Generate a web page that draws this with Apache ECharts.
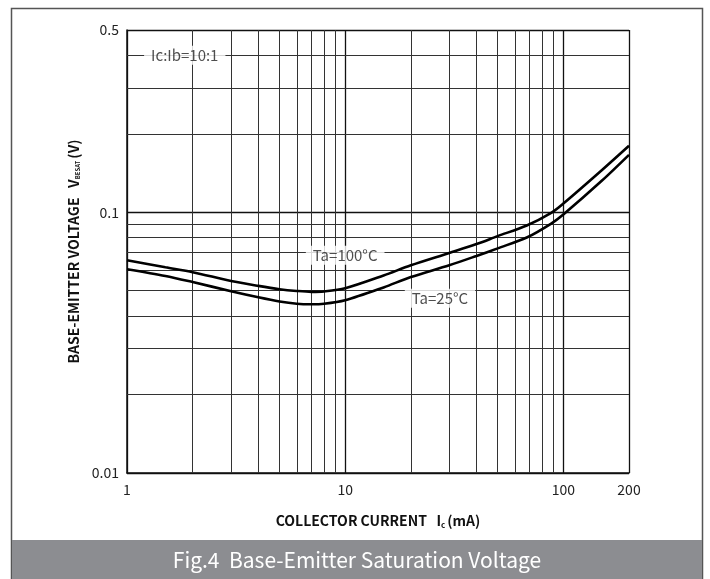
<!DOCTYPE html>
<html>
<head>
<meta charset="utf-8">
<script src="https://cdn.jsdelivr.net/npm/echarts@6/dist/echarts.min.js"></script>
<style>
html,body{margin:0;padding:0;background:#fff;}
#c{width:710px;height:579px;}
</style>
</head>
<body>
<div id="c"></div>
<script>
var icValues = [1, 1.5, 2, 3, 4, 5, 6, 7, 8, 10, 15, 20, 30, 40, 50, 68, 88, 100, 150, 200];
var vbe100 = [0.0655, 0.0615, 0.0589, 0.0545, 0.0522, 0.0507, 0.0499, 0.0495, 0.0497, 0.0511, 0.0572, 0.0626, 0.0698, 0.0755, 0.081, 0.089, 0.0995, 0.108, 0.145, 0.180];
var vbe25 = [0.0605, 0.057, 0.054, 0.0498, 0.0472, 0.0455, 0.0446, 0.0444, 0.0446, 0.046, 0.0515, 0.0564, 0.0626, 0.068, 0.0727, 0.080, 0.0905, 0.098, 0.132, 0.166];
var xMinorGrid = [2, 3, 4, 5, 6, 7, 8, 9, 20, 30, 40, 50, 60, 70, 80, 90];
var yMinorGrid = [0.02, 0.03, 0.04, 0.05, 0.06, 0.07, 0.08, 0.09, 0.2, 0.3, 0.4];
var annotations = [
  {name: 'Ic:Ib=10:1', ic: 1.84, v: 0.4},
  {name: 'Ta=100°C', ic: 10, v: 0.0684},
  {name: 'Ta=25°C', ic: 27.2, v: 0.0468}
];

var FONT = '"Noto Sans CJK SC", "Noto Sans", sans-serif';
function zip(xs, ys){ return xs.map(function(x,i){ return [x, ys[i]]; }); }

var gridLines = [];
xMinorGrid.forEach(function(v){ gridLines.push({xAxis: v}); });
yMinorGrid.forEach(function(v){ gridLines.push({yAxis: v}); });

var chart = echarts.init(document.getElementById('c'));
chart.setOption({
  backgroundColor: '#fff',
  animation: false,
  grid: {left: 127, right: 81, top: 30, bottom: 106, containLabel: false},
  xAxis: {
    type: 'log', logBase: 10, min: 1, max: 200,
    name: '{b|COLLECTOR CURRENT   I}{s|c}{b|(mA)}',
    nameLocation: 'middle', nameGap: 40,
    nameTextStyle: {
      rich: {
        b: {fontFamily: FONT, fontWeight: 'bold', fontSize: 14, color: '#111'},
        s: {fontFamily: FONT, fontWeight: 'bold', fontSize: 8, color: '#111', verticalAlign: 'bottom', padding: [8, 2, 0, 0]}
      }
    },
    axisLine: {show: true, lineStyle: {color: '#111', width: 1.5}},
    axisTick: {show: false},
    minorTick: {show: false},
    axisLabel: {fontFamily: FONT, fontSize: 14, color: '#222', margin: 10},
    splitLine: {show: true, lineStyle: {color: '#111', width: 1.3}}
  },
  yAxis: {
    type: 'log', logBase: 10, min: 0.01, max: 0.5,
    name: '{b|BASE-EMITTER VOLTAGE   V}{s|BESAT}{b|(V)}',
    nameLocation: 'middle', nameGap: 42, nameRotate: 90,
    nameTextStyle: {
      rich: {
        b: {fontFamily: FONT, fontWeight: 'bold', fontSize: 14, color: '#111'},
        s: {fontFamily: FONT, fontWeight: 'bold', fontSize: 6, color: '#111', verticalAlign: 'bottom', padding: [8, 2, 0, 0]}
      }
    },
    axisLine: {show: true, lineStyle: {color: '#111', width: 1.5}},
    axisTick: {show: false},
    minorTick: {show: false},
    axisLabel: {fontFamily: FONT, fontSize: 14, color: '#222', margin: 8},
    splitLine: {show: true, lineStyle: {color: '#111', width: 1.3}}
  },
  series: [
    {
      type: 'line', data: [], silent: true,
      markLine: {
        silent: true, symbol: ['none', 'none'], label: {show: false},
        lineStyle: {color: '#333', width: 1, type: 'solid'},
        emphasis: {disabled: true},
        data: gridLines
      }
    },
    {
      name: 'Ta=100°C', type: 'line', data: zip(icValues, vbe100),
      smooth: 0.3, showSymbol: false, z: 5,
      lineStyle: {color: '#000', width: 2.6}
    },
    {
      name: 'Ta=25°C', type: 'line', data: zip(icValues, vbe25),
      smooth: 0.3, showSymbol: false, z: 5,
      lineStyle: {color: '#000', width: 2.6}
    },
    {
      type: 'scatter', symbolSize: 0, z: 10, silent: true,
      data: annotations.map(function(a){ return {name: a.name, value: [a.ic, a.v]}; }),
      label: {
        show: true, position: 'inside', formatter: '{b}',
        fontFamily: FONT, fontSize: 15, color: '#222',
        backgroundColor: '#fff', padding: [2, 7]
      }
    }
  ],
  graphic: [
    {type: 'rect', shape: {x: 11.5, y: 8.5, width: 691, height: 580}, style: {fill: 'none', stroke: '#555', lineWidth: 1.5}, z: 100},
    {type: 'rect', shape: {x: 12, y: 540, width: 690, height: 39}, style: {fill: '#8c8d91'}, z: 101},
    {type: 'text', x: 357, y: 560, style: {text: 'Fig.4  Base-Emitter Saturation Voltage', fill: '#fff', font: '21px "Noto Sans CJK SC", "Noto Sans", sans-serif', textAlign: 'center', textVerticalAlign: 'middle'}, z: 102}
  ]
});
</script>
</body>
</html>
